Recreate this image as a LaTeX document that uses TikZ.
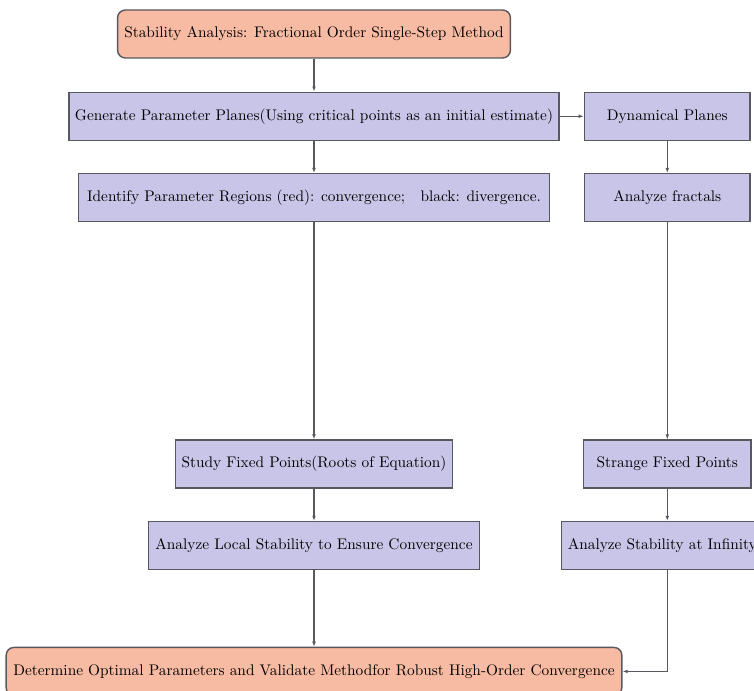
\documentclass[tikz,border=0pt]{standalone}
\definecolor{lavbox}{RGB}{201, 197, 232}
\definecolor{salmonbox}{RGB}{247, 186, 162}
\definecolor{edgegray}{RGB}{88, 88, 96}
\usetikzlibrary{arrows.meta, positioning}
\tikzset{
	terminal/.style={rectangle, rounded corners=5.5pt, draw=edgegray, fill=salmonbox, line width=1pt, align=center, minimum height=33.6pt, font=\fontsize{10.75pt}{13pt}\selectfont},
	process/.style={rectangle, draw=edgegray, fill=lavbox, line width=1pt, align=center, minimum height=33.6pt, font=\fontsize{10.75pt}{13pt}\selectfont},
	arrow/.style={-{Latex[length=3.5pt]}, line width=0.9pt, draw=edgegray},
}
\begin{document}
\begin{tikzpicture}
	\useasboundingbox (-219.8pt,23.8pt) rectangle (308pt,-459.9pt);
	% left column
	\node[terminal, minimum width=275pt] (start) at (0,0) {Stability Analysis: Fractional Order Single-Step Method};
	\node[process, minimum width=343pt, below=23pt of start] (paramplanes) {Generate Parameter Planes(Using critical points as an initial estimate)};
	\node[process, minimum width=330pt, below=22.4pt of paramplanes] (regions) {Identify Parameter Regions (red): convergence;\quad black: divergence.};
	\node[process, minimum width=194pt, below=151.9pt of regions] (fixedpts) {Study Fixed Points(Roots of Equation)};
	\node[process, minimum width=232pt, below=22.4pt of fixedpts] (localstab) {Analyze Local Stability to Ensure Convergence};
	\node[terminal, minimum width=431pt, below=53.5pt of localstab] (optimal) {Determine Optimal Parameters and Validate Methodfor Robust High-Order Convergence};
	% right column
	\node[process, minimum width=116pt, right=16.8pt of paramplanes] (dynplanes) {Dynamical Planes};
	\node[process, minimum width=116pt, below=22.4pt of dynplanes] (fractals) {Analyze fractals};
	\node[process, minimum width=117pt, below=151.9pt of fractals] (strange) {Strange Fixed Points};
	\node[process, minimum width=141pt, below=22.4pt of strange, xshift=-3.5pt] (infinity) {Analyze Stability at Infinity};

	\draw[arrow] (start) -- (paramplanes);
	\draw[arrow] (paramplanes) -- (regions);
	\draw[arrow] (regions) -- (fixedpts);
	\draw[arrow] (fixedpts) -- (localstab);
	\draw[arrow] (localstab) -- (optimal);
	\draw[arrow] (paramplanes) -- (dynplanes);
	\draw[arrow] (dynplanes) -- (fractals);
	\draw[arrow] (fractals) -- (strange);
	\draw[arrow] (strange) -- (strange |- infinity.north);
	\draw[arrow] (strange |- infinity.south) |- (optimal);
\end{tikzpicture}
\end{document}
